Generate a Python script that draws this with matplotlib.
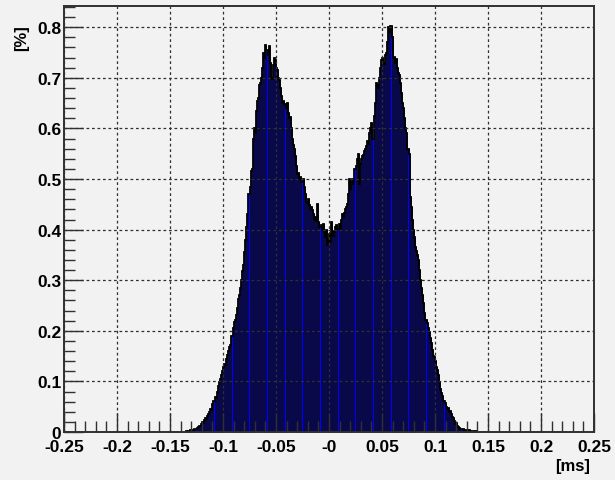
import matplotlib
matplotlib.use('Agg')
import matplotlib.pyplot as plt
import matplotlib.ticker as mticker
import numpy as np

# ビン (幅 0.001 ms, 左端 -0.135 ms)
bin_width = 0.001
bin_start = -0.135
# 各ビンの値 [%]
counts = [
    0.001, 0.000, 0.002, 0.001, 0.003, 0.002, 0.004, 0.003, 0.006, 0.005,
    0.008, 0.010, 0.012, 0.011, 0.016, 0.020, 0.018, 0.024, 0.027, 0.025,
    0.032, 0.036, 0.040, 0.045, 0.043, 0.055, 0.062, 0.070, 0.068, 0.080,
    0.090, 0.098, 0.105, 0.112, 0.120, 0.128, 0.135, 0.132, 0.145, 0.152,
    0.160, 0.168, 0.172, 0.190, 0.205, 0.218, 0.222, 0.232, 0.245, 0.262,
    0.270, 0.285, 0.300, 0.318, 0.330, 0.355, 0.380, 0.405, 0.430, 0.470,
    0.485, 0.515, 0.520, 0.580, 0.600, 0.590, 0.635, 0.655, 0.660, 0.685,
    0.690, 0.700, 0.720, 0.750, 0.740, 0.765, 0.755, 0.745, 0.762, 0.730,
    0.700, 0.698, 0.725, 0.740, 0.735, 0.720, 0.715, 0.700, 0.695, 0.680,
    0.665, 0.650, 0.655, 0.648, 0.640, 0.650, 0.630, 0.620, 0.622, 0.600,
    0.580, 0.568, 0.560, 0.545, 0.525, 0.510, 0.512, 0.500, 0.505, 0.495,
    0.500, 0.485, 0.470, 0.455, 0.452, 0.460, 0.448, 0.440, 0.445, 0.438,
    0.430, 0.420, 0.425, 0.418, 0.450, 0.415, 0.405, 0.410, 0.400, 0.412,
    0.395, 0.385, 0.400, 0.370, 0.380, 0.392, 0.375, 0.415, 0.398, 0.388,
    0.395, 0.405, 0.410, 0.402, 0.412, 0.400, 0.420, 0.430, 0.425, 0.432,
    0.440, 0.445, 0.450, 0.470, 0.500, 0.480, 0.495, 0.500, 0.490, 0.520,
    0.525, 0.540, 0.550, 0.490, 0.530, 0.540, 0.545, 0.548, 0.555, 0.560,
    0.565, 0.575, 0.570, 0.590, 0.600, 0.610, 0.580, 0.625, 0.650, 0.690,
    0.685, 0.680, 0.700, 0.720, 0.735, 0.740, 0.730, 0.728, 0.745, 0.750,
    0.770, 0.800, 0.790, 0.802, 0.780, 0.740, 0.742, 0.730, 0.738, 0.720,
    0.710, 0.705, 0.690, 0.670, 0.650, 0.640, 0.620, 0.600, 0.590, 0.560,
    0.550, 0.465, 0.445, 0.420, 0.400, 0.385, 0.365, 0.358, 0.350, 0.340,
    0.320, 0.300, 0.285, 0.270, 0.255, 0.235, 0.222, 0.215, 0.205, 0.198,
    0.185, 0.175, 0.162, 0.150, 0.148, 0.140, 0.128, 0.122, 0.112, 0.098,
    0.085, 0.078, 0.072, 0.062, 0.058, 0.050, 0.046, 0.048, 0.040, 0.042,
    0.035, 0.030, 0.028, 0.022, 0.015, 0.018, 0.012, 0.010, 0.008, 0.006,
    0.005, 0.006, 0.004, 0.003, 0.004, 0.003, 0.002, 0.003, 0.002, 0.002,
    0.001, 0.002, 0.001, 0.000, 0.001,
]
xticks = [-0.25, -0.2, -0.15, -0.1, -0.05, 0.0, 0.05, 0.1, 0.15, 0.2, 0.25]
xtick_labels = ['-0.25', '-0.2', '-0.15', '-0.1', '-0.05', '-0',
                '0.05', '0.1', '0.15', '0.2', '0.25']
yticks = [0, 0.1, 0.2, 0.3, 0.4, 0.5, 0.6, 0.7, 0.8]
ytick_labels = ['0', '0.1', '0.2', '0.3', '0.4', '0.5', '0.6', '0.7', '0.8']

bg = '#f2f2f2'
plt.rcParams['font.family'] = ['Liberation Sans', 'DejaVu Sans']

fig = plt.figure(figsize=(6.15, 4.81), dpi=100, facecolor=bg)
ax = fig.add_axes([64 / 615, 48 / 481, 530 / 615, 426 / 481])
ax.set_facecolor(bg)

# ヒストグラム
edges = bin_start + bin_width * np.arange(len(counts))
ax.bar(edges, counts, width=bin_width, align='edge',
       color='#0000ff', edgecolor='black', linewidth=0.42)
# 外形線 (黒)
ax.stairs(counts, np.append(edges, edges[-1] + bin_width),
          color='black', linewidth=1.3)

ax.set_xlim(-0.25, 0.25)
ax.set_ylim(0, 0.842)

# 格子線 (ROOTと同じくヒストグラムの上に描く)
ax.grid(True, linestyle=(0, (2.2, 2.2)), color='#303030', linewidth=0.9)
ax.set_axisbelow(False)

ax.set_xticks(xticks)
ax.set_xticklabels(xtick_labels)
ax.set_yticks(yticks)
ax.set_yticklabels(ytick_labels)
ax.xaxis.set_minor_locator(mticker.MultipleLocator(0.01))
ax.yaxis.set_minor_locator(mticker.MultipleLocator(0.02))
ax.tick_params(which='both', direction='in', color='#303030', width=1.0,
               labelsize=12.5)
ax.tick_params(axis='x', which='both', pad=5)
ax.tick_params(axis='y', which='both', pad=2)
ax.tick_params(which='major', length=14)
ax.tick_params(which='minor', length=8)
for lab in ax.get_xticklabels() + ax.get_yticklabels():
    lab.set_fontweight('bold')
for sp in ax.spines.values():
    sp.set_color('#303030')
    sp.set_linewidth(1.4)

# 軸ラベル
fig.text(590 / 615, 1 - 467 / 481, '[ms]', ha='right', va='center',
         fontsize=12, fontweight='bold')
fig.text(22 / 615, 1 - 38 / 481, '[%]', ha='center', va='center',
         rotation=90, fontsize=12, fontweight='bold')

fig.savefig('out.png', dpi=100, facecolor=bg)
